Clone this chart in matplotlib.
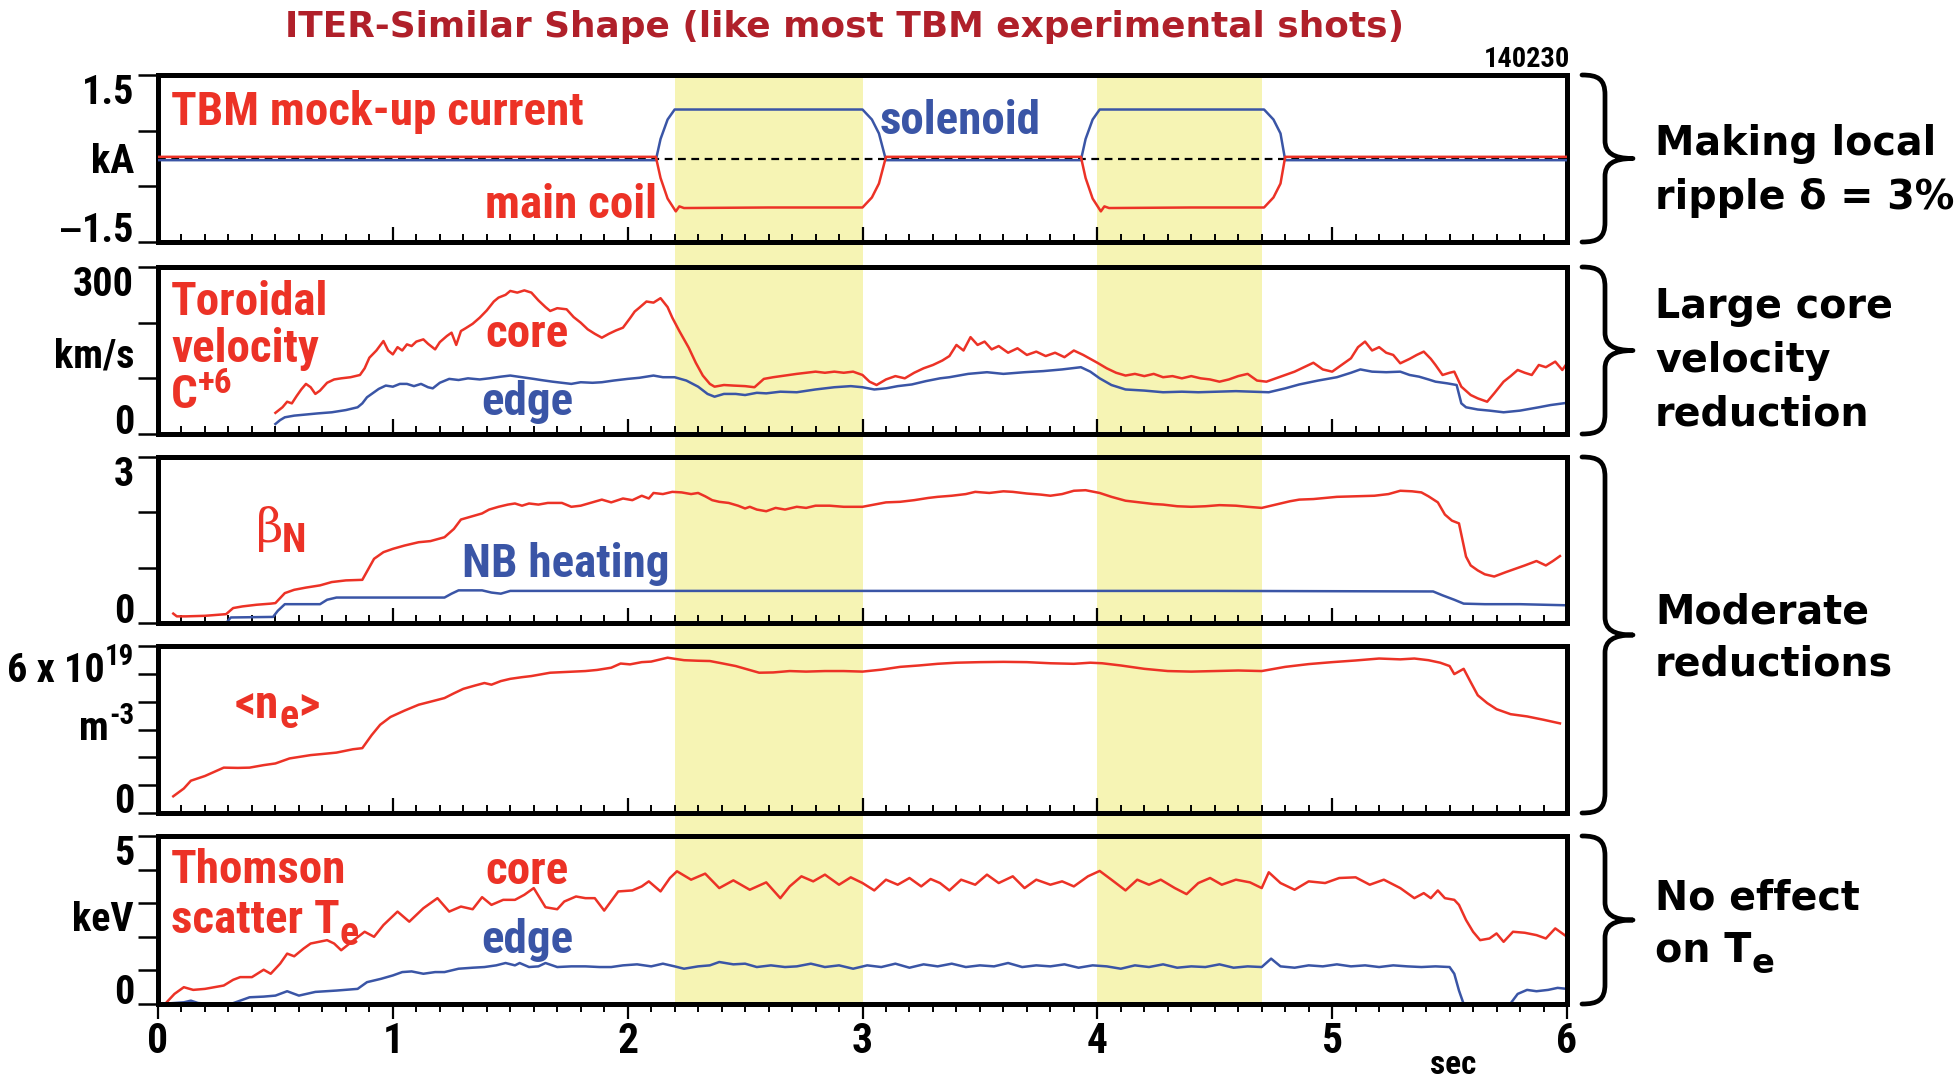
import os
import matplotlib
matplotlib.use("Agg")
import matplotlib.pyplot as plt
from matplotlib import font_manager as fm
from matplotlib.font_manager import FontProperties
from matplotlib.path import Path
from matplotlib.patches import PathPatch, Rectangle
from matplotlib.transforms import blended_transform_factory
from matplotlib.ticker import MultipleLocator

# ---------------------------------------------------------------- data
x_ticks = [0, 1, 2, 3, 4, 5, 6]
shade_spans = [(2.2, 3.0), (4.0, 4.7)]

# panel 1 : TBM mock-up current (kA)
t_sol = [0.0, 2.12, 2.14, 2.17, 2.20, 2.6, 3.00, 3.04, 3.07, 3.10,
         3.93, 3.95, 3.98, 4.01, 4.4, 4.71, 4.75, 4.78, 4.80, 6.0]
v_sol = [-0.03, -0.03, 0.35, 0.70, 0.88, 0.88, 0.88, 0.70, 0.45, -0.03,
         -0.03, 0.35, 0.70, 0.88, 0.88, 0.88, 0.70, 0.45, -0.03, -0.03]
t_main = [0.0, 2.12, 2.14, 2.17, 2.205, 2.22, 2.24, 2.6, 3.00, 3.04, 3.07, 3.10,
          3.93, 3.95, 3.98, 4.015, 4.03, 4.05, 4.4, 4.71, 4.75, 4.78, 4.80, 6.0]
v_main = [0.03, 0.03, -0.35, -0.72, -0.95, -0.86, -0.89, -0.88, -0.88, -0.70, -0.45, 0.03,
          0.03, -0.35, -0.72, -0.95, -0.86, -0.89, -0.88, -0.88, -0.70, -0.45, 0.03, 0.03]

# panel 2 : toroidal velocity C+6 (km/s)
t_vcore = [0.50, 0.53, 0.55, 0.57, 0.59, 0.61, 0.63, 0.65, 0.67, 0.69, 0.72, 0.75, 0.78, 0.82,
           0.86, 0.88, 0.90, 0.93, 0.96, 0.98, 1.00, 1.02, 1.04, 1.06, 1.08, 1.10, 1.13, 1.15,
           1.18, 1.20, 1.23, 1.25, 1.27, 1.29, 1.31, 1.34, 1.37, 1.40, 1.43, 1.45, 1.48, 1.50,
           1.53, 1.56, 1.59, 1.62, 1.65, 1.67, 1.70, 1.74, 1.77, 1.80, 1.83, 1.86, 1.89, 1.92,
           1.95, 1.98, 2.01, 2.03, 2.05, 2.08, 2.11, 2.14, 2.17, 2.19, 2.22, 2.24, 2.26, 2.29,
           2.32, 2.35, 2.37, 2.41, 2.45, 2.50, 2.54, 2.58, 2.62, 2.67, 2.72, 2.76, 2.80, 2.84,
           2.88, 2.92, 2.96, 3.00, 3.03, 3.06, 3.10, 3.14, 3.18, 3.22, 3.26, 3.30, 3.34, 3.37,
           3.40, 3.43, 3.46, 3.49, 3.52, 3.55, 3.58, 3.62, 3.66, 3.70, 3.74, 3.78, 3.82, 3.86,
           3.90, 3.94, 3.97, 4.00, 4.04, 4.08, 4.12, 4.16, 4.20, 4.24, 4.28, 4.32, 4.36, 4.40,
           4.44, 4.48, 4.52, 4.56, 4.60, 4.64, 4.68, 4.72, 4.76, 4.80, 4.84, 4.88, 4.92, 4.96,
           5.00, 5.04, 5.08, 5.11, 5.14, 5.17, 5.20, 5.23, 5.26, 5.29, 5.33, 5.36, 5.39, 5.42,
           5.44, 5.47, 5.50, 5.52, 5.55, 5.59, 5.62, 5.66, 5.69, 5.73, 5.76, 5.79, 5.82, 5.85,
           5.88, 5.91, 5.95, 5.98, 6.00]
v_vcore = [38, 48, 58, 55, 68, 80, 90, 84, 72, 78, 92, 98, 100, 102,
           106, 118, 137, 150, 167, 150, 143, 156, 150, 161, 158, 166, 170, 162,
           152, 165, 176, 182, 160, 185, 190, 198, 209, 222, 238, 245, 250, 257,
           254, 258, 254, 240, 228, 221, 226, 224, 210, 200, 188, 180, 173, 180,
           186, 191, 208, 220, 227, 238, 236, 244, 228, 209, 185, 170, 155, 128,
           105, 90, 85, 88, 87, 86, 84, 99, 102, 105, 108, 110, 112, 110,
           112, 110, 112, 106, 94, 88, 98, 104, 100, 110, 118, 124, 132, 140,
           160, 150, 174, 160, 166, 152, 158, 146, 154, 142, 148, 140, 146, 138,
           150, 142, 135, 128, 118, 110, 105, 108, 104, 108, 102, 104, 100, 104,
           100, 98, 94, 98, 104, 108, 96, 94, 100, 106, 112, 120, 128, 116,
           112, 124, 136, 156, 166, 150, 156, 146, 142, 127, 135, 142, 148, 135,
           124, 106, 110, 112, 85, 70, 64, 58, 73, 94, 104, 115, 110, 106,
           124, 120, 130, 115, 127]
t_vedge = [0.50, 0.52, 0.54, 0.58, 0.63, 0.68, 0.74, 0.80, 0.85, 0.87, 0.89, 0.92, 0.94, 0.97,
           1.00, 1.03, 1.06, 1.09, 1.12, 1.15, 1.17, 1.20, 1.24, 1.28, 1.32, 1.37, 1.41, 1.46,
           1.50, 1.55, 1.60, 1.63, 1.68, 1.72, 1.76, 1.80, 1.85, 1.89, 1.94, 2.00, 2.05, 2.11,
           2.15, 2.20, 2.25, 2.30, 2.34, 2.37, 2.41, 2.46, 2.50, 2.55, 2.59, 2.65, 2.72, 2.80,
           2.88, 2.95, 3.00, 3.05, 3.10, 3.15, 3.21, 3.27, 3.33, 3.37, 3.45, 3.53, 3.60, 3.69,
           3.77, 3.85, 3.93, 3.97, 4.01, 4.06, 4.12, 4.20, 4.28, 4.36, 4.43, 4.51, 4.59, 4.66,
           4.73, 4.80, 4.86, 4.94, 5.02, 5.08, 5.12, 5.17, 5.23, 5.29, 5.33, 5.37, 5.41, 5.44,
           5.49, 5.53, 5.55, 5.57, 5.62, 5.67, 5.73, 5.80, 5.88, 5.93, 6.00]
v_vedge = [18, 25, 30, 33, 35, 37, 39, 43, 48, 55, 66, 75, 81, 87,
           85, 90, 90, 86, 90, 84, 82, 92, 99, 97, 100, 98, 100, 103,
           105, 102, 99, 97, 94, 92, 90, 93, 92, 93, 96, 99, 101, 105,
           102, 102, 96, 85, 72, 67, 72, 72, 70, 74, 73, 76, 75, 80,
           84, 86, 84, 80, 82, 86, 89, 95, 100, 102, 108, 111, 108, 111,
           113, 116, 120, 112, 100, 88, 80, 78, 75, 76, 75, 76, 77, 76,
           75, 82, 89, 96, 102, 110, 116, 112, 111, 112, 106, 103, 98, 94,
           91, 88, 55, 48, 44, 42, 39, 42, 48, 52, 56]

# panel 3 : beta_N and NB heating
t_beta = [0.065, 0.08, 0.12, 0.20, 0.29, 0.32, 0.36, 0.42, 0.48, 0.50, 0.54, 0.58, 0.63, 0.69,
          0.74, 0.80, 0.87, 0.92, 0.96, 1.00, 1.05, 1.11, 1.16, 1.22, 1.26, 1.29, 1.34, 1.38,
          1.41, 1.45, 1.49, 1.52, 1.55, 1.58, 1.62, 1.66, 1.72, 1.76, 1.80, 1.85, 1.89, 1.93,
          1.98, 2.02, 2.06, 2.09, 2.11, 2.15, 2.19, 2.23, 2.27, 2.30, 2.33, 2.36, 2.39, 2.43,
          2.47, 2.50, 2.52, 2.55, 2.59, 2.63, 2.67, 2.72, 2.76, 2.80, 2.86, 2.92, 3.00, 3.05,
          3.10, 3.16, 3.22, 3.28, 3.32, 3.38, 3.44, 3.48, 3.54, 3.60, 3.64, 3.70, 3.76, 3.80,
          3.85, 3.90, 3.95, 4.01, 4.06, 4.12, 4.18, 4.24, 4.28, 4.34, 4.40, 4.46, 4.52, 4.59,
          4.64, 4.70, 4.76, 4.82, 4.86, 4.92, 5.02, 5.10, 5.18, 5.24, 5.29, 5.34, 5.38, 5.41,
          5.45, 5.48, 5.51, 5.54, 5.57, 5.59, 5.62, 5.65, 5.69, 5.74, 5.78, 5.82, 5.87, 5.91,
          5.94, 5.97]
v_beta = [0.17, 0.12, 0.12, 0.13, 0.16, 0.27, 0.30, 0.33, 0.35, 0.36, 0.54, 0.60, 0.64, 0.68,
          0.74, 0.77, 0.78, 1.16, 1.28, 1.34, 1.40, 1.46, 1.48, 1.55, 1.70, 1.87, 1.93, 1.98,
          2.05, 2.10, 2.14, 2.16, 2.12, 2.16, 2.14, 2.17, 2.17, 2.10, 2.12, 2.18, 2.23, 2.18,
          2.25, 2.22, 2.30, 2.25, 2.35, 2.33, 2.37, 2.36, 2.33, 2.35, 2.29, 2.22, 2.19, 2.17,
          2.12, 2.07, 2.10, 2.05, 2.02, 2.08, 2.05, 2.10, 2.08, 2.12, 2.12, 2.10, 2.10, 2.14,
          2.18, 2.19, 2.22, 2.26, 2.28, 2.30, 2.33, 2.37, 2.35, 2.38, 2.37, 2.34, 2.32, 2.30,
          2.33, 2.39, 2.40, 2.35, 2.28, 2.21, 2.18, 2.15, 2.14, 2.11, 2.10, 2.11, 2.13, 2.12,
          2.10, 2.08, 2.14, 2.20, 2.23, 2.24, 2.28, 2.29, 2.30, 2.33, 2.39, 2.38, 2.36, 2.29,
          2.18, 1.96, 1.85, 1.80, 1.20, 1.04, 0.95, 0.88, 0.84, 0.92, 0.98, 1.04, 1.12, 1.04,
          1.12, 1.21]
t_nb = [0.29, 0.31, 0.49, 0.51, 0.54, 0.69, 0.72, 0.76, 1.22, 1.25, 1.28, 1.38, 1.42, 1.46,
        1.50, 2.5, 3.5, 4.5, 5.43, 5.47, 5.52, 5.56, 5.65, 5.80, 6.00]
v_nb = [0.00, 0.10, 0.11, 0.22, 0.34, 0.34, 0.42, 0.46, 0.46, 0.53, 0.59, 0.59, 0.55, 0.53,
        0.58, 0.58, 0.58, 0.58, 0.57, 0.50, 0.42, 0.35, 0.34, 0.34, 0.32]

# panel 4 : line-averaged density (10^19 m^-3)
t_ne = [0.065, 0.11, 0.14, 0.20, 0.28, 0.34, 0.39, 0.45, 0.50, 0.56, 0.65, 0.70, 0.76, 0.83,
        0.87, 0.91, 0.946, 0.99, 1.05, 1.11, 1.17, 1.22, 1.26, 1.30, 1.35, 1.39, 1.42, 1.46,
        1.50, 1.55, 1.59, 1.63, 1.67, 1.72, 1.77, 1.82, 1.87, 1.93, 1.97, 2.01, 2.06, 2.10,
        2.14, 2.17, 2.20, 2.24, 2.30, 2.35, 2.40, 2.46, 2.51, 2.56, 2.62, 2.69, 2.76, 2.84,
        2.92, 3.00, 3.08, 3.16, 3.24, 3.32, 3.40, 3.50, 3.60, 3.70, 3.80, 3.90, 3.97, 4.02,
        4.10, 4.20, 4.30, 4.40, 4.50, 4.60, 4.70, 4.80, 4.90, 5.00, 5.10, 5.20, 5.29, 5.35,
        5.41, 5.46, 5.50, 5.52, 5.56, 5.59, 5.62, 5.66, 5.70, 5.76, 5.83, 5.90, 5.97]
v_ne = [0.60, 0.88, 1.16, 1.33, 1.63, 1.62, 1.63, 1.72, 1.78, 1.96, 2.08, 2.12, 2.17, 2.29,
        2.33, 2.80, 3.17, 3.45, 3.68, 3.89, 4.02, 4.13, 4.30, 4.46, 4.58, 4.67, 4.61, 4.74,
        4.82, 4.88, 4.92, 4.98, 5.04, 5.06, 5.08, 5.10, 5.14, 5.22, 5.37, 5.34, 5.42, 5.44,
        5.52, 5.58, 5.54, 5.49, 5.47, 5.46, 5.38, 5.28, 5.16, 5.04, 5.05, 5.10, 5.08, 5.10,
        5.10, 5.08, 5.15, 5.25, 5.30, 5.36, 5.40, 5.42, 5.43, 5.42, 5.38, 5.36, 5.40, 5.38,
        5.30, 5.18, 5.10, 5.08, 5.10, 5.12, 5.10, 5.25, 5.35, 5.42, 5.48, 5.55, 5.52, 5.55,
        5.49, 5.40, 5.28, 4.99, 5.18, 4.70, 4.23, 3.95, 3.73, 3.55, 3.47, 3.35, 3.22]

# panel 5 : Thomson scattering Te (keV)
t_tcore = [0.00, 0.03, 0.07, 0.11, 0.15, 0.20, 0.28, 0.32, 0.35, 0.40, 0.45, 0.48, 0.52, 0.55,
           0.58, 0.62, 0.65, 0.72, 0.75, 0.78, 0.83, 0.88, 0.92, 0.96, 1.02, 1.07, 1.10, 1.13,
           1.19, 1.24, 1.29, 1.34, 1.38, 1.42, 1.47, 1.52, 1.56, 1.60, 1.65, 1.70, 1.73, 1.78,
           1.82, 1.86, 1.90, 1.96, 2.02, 2.06, 2.09, 2.14, 2.18, 2.21, 2.27, 2.33, 2.39, 2.45,
           2.52, 2.59, 2.65, 2.69, 2.74, 2.79, 2.84, 2.90, 2.95, 3.00, 3.05, 3.10, 3.15, 3.20,
           3.25, 3.29, 3.33, 3.37, 3.42, 3.48, 3.53, 3.58, 3.64, 3.69, 3.74, 3.80, 3.85, 3.90,
           3.96, 4.01, 4.06, 4.12, 4.17, 4.22, 4.27, 4.33, 4.38, 4.43, 4.48, 4.53, 4.59, 4.65,
           4.70, 4.73, 4.78, 4.84, 4.90, 4.97, 5.03, 5.10, 5.16, 5.22, 5.29, 5.35, 5.39, 5.42,
           5.45, 5.48, 5.52, 5.54, 5.57, 5.60, 5.63, 5.67, 5.70, 5.73, 5.77, 5.82, 5.87, 5.91,
           5.95, 6.00]
v_tcore = [0.00, 0.00, 0.30, 0.50, 0.42, 0.45, 0.55, 0.72, 0.80, 0.80, 1.02, 0.90, 1.20, 1.50,
           1.42, 1.65, 1.80, 1.90, 1.80, 1.60, 1.88, 2.15, 2.00, 2.35, 2.75, 2.45, 2.65, 2.85,
           3.15, 2.75, 2.90, 2.82, 3.18, 2.95, 3.10, 3.10, 3.25, 3.45, 2.88, 2.82, 3.05, 3.20,
           3.15, 3.15, 2.78, 3.35, 3.38, 3.50, 3.65, 3.35, 3.75, 3.95, 3.70, 3.88, 3.45, 3.68,
           3.40, 3.62, 3.15, 3.50, 3.80, 3.65, 3.85, 3.55, 3.77, 3.60, 3.38, 3.70, 3.55, 3.75,
           3.50, 3.72, 3.60, 3.38, 3.70, 3.55, 3.85, 3.60, 3.80, 3.45, 3.70, 3.55, 3.65, 3.50,
           3.80, 3.96, 3.70, 3.38, 3.70, 3.55, 3.70, 3.45, 3.27, 3.60, 3.75, 3.55, 3.70, 3.62,
           3.45, 3.92, 3.60, 3.40, 3.65, 3.60, 3.75, 3.77, 3.55, 3.70, 3.45, 3.15, 3.30, 3.15,
           3.38, 3.15, 3.10, 2.95, 2.50, 2.15, 1.90, 1.95, 2.10, 1.85, 2.15, 2.12, 2.05, 1.95,
           2.25, 2.00]
t_tedge = [0.00, 0.05, 0.11, 0.14, 0.17, 0.22, 0.31, 0.35, 0.39, 0.45, 0.50, 0.55, 0.60, 0.67,
           0.76, 0.85, 0.89, 0.95, 1.00, 1.04, 1.08, 1.13, 1.18, 1.22, 1.28, 1.34, 1.39, 1.44,
           1.48, 1.52, 1.54, 1.58, 1.62, 1.65, 1.70, 1.76, 1.82, 1.88, 1.93, 1.98, 2.04, 2.10,
           2.15, 2.20, 2.24, 2.30, 2.35, 2.39, 2.45, 2.50, 2.55, 2.61, 2.67, 2.72, 2.78, 2.84,
           2.90, 2.96, 3.02, 3.08, 3.14, 3.20, 3.26, 3.32, 3.38, 3.44, 3.50, 3.56, 3.62, 3.68,
           3.74, 3.80, 3.86, 3.92, 3.98, 4.04, 4.10, 4.16, 4.22, 4.28, 4.34, 4.40, 4.46, 4.52,
           4.58, 4.64, 4.70, 4.74, 4.78, 4.84, 4.90, 4.96, 5.02, 5.08, 5.14, 5.20, 5.26, 5.32,
           5.38, 5.44, 5.50, 5.52, 5.54, 5.56, 5.60, 5.72, 5.76, 5.79, 5.83, 5.87, 5.92, 5.96,
           6.00]
v_tedge = [0.00, 0.02, 0.05, 0.10, 0.03, 0.00, 0.00, 0.10, 0.20, 0.22, 0.25, 0.38, 0.25, 0.36,
           0.40, 0.45, 0.65, 0.75, 0.85, 0.95, 0.97, 0.90, 0.95, 0.95, 1.05, 1.08, 1.10, 1.15,
           1.22, 1.15, 1.22, 1.10, 1.12, 1.22, 1.10, 1.12, 1.12, 1.10, 1.10, 1.15, 1.18, 1.12,
           1.20, 1.12, 1.05, 1.12, 1.15, 1.25, 1.18, 1.20, 1.10, 1.15, 1.10, 1.12, 1.20, 1.10,
           1.15, 1.05, 1.15, 1.10, 1.20, 1.08, 1.18, 1.12, 1.20, 1.10, 1.15, 1.12, 1.22, 1.10,
           1.15, 1.12, 1.18, 1.08, 1.15, 1.12, 1.05, 1.15, 1.10, 1.18, 1.08, 1.12, 1.10, 1.18,
           1.08, 1.12, 1.10, 1.35, 1.12, 1.08, 1.15, 1.12, 1.18, 1.12, 1.15, 1.10, 1.15, 1.12,
           1.10, 1.12, 1.10, 0.90, 0.40, 0.00, 0.00, 0.00, 0.02, 0.30, 0.42, 0.38, 0.42, 0.48,
           0.45]

# ---------------------------------------------------------------- fonts
RED = "#ec3226"
BLUE = "#3a55a6"
DARKRED = "#b0202a"
YELLOW = "#f6f4b4"


def _is_bold(w):
    if isinstance(w, (int, float)):
        return 600 <= w <= 800
    return str(w).lower() in ("bold", "semibold", "demibold", "demi", "extra bold")


COND_STRETCH = ("condensed", "semi-condensed", "extra-condensed", "ultra-condensed")
_cands = []
for f in fm.fontManager.ttflist:
    base = os.path.basename(f.fname).lower()
    condlike = (f.stretch in COND_STRETCH or "narrow" in f.name.lower()
                or "condensed" in f.name.lower() or "cond" in base or "narrow" in base)
    if condlike and _is_bold(f.weight) and f.style == "normal" and "italic" not in base \
            and "oblique" not in base and "serif" not in f.name.lower().replace("sans", ""):
        _cands.append(f)

_pref = ["liberation sans narrow", "arial narrow", "roboto condensed", "noto sans",
         "open sans", "dejavu sans", "roboto", "lato", "inter"]


def _rank(f):
    n = f.name.lower()
    base = os.path.basename(f.fname).lower()
    pi = next((i for i, p in enumerate(_pref) if n.startswith(p)), len(_pref))
    si = 0 if (f.stretch == "condensed" or ("condensed" in base and "semi" not in base
                                            and "extra" not in base)) else 1
    wi = 0 if (f.weight in (700, "bold") or "bold" in base and "semi" not in base
               and "extra" not in base) else 1
    return (pi, si, wi)


_cands.sort(key=_rank)
if _cands:
    NARROW_PATH = _cands[0].fname
else:
    NARROW_PATH = fm.findfont(FontProperties(family="Liberation Sans", weight="bold"))
WIDE_PATH = fm.findfont(FontProperties(family="DejaVu Sans", weight="bold"))
SERIF_PATH = fm.findfont(FontProperties(family="DejaVu Serif", weight="normal"))

W, H = 1959, 1078
fig = plt.figure(figsize=(W / 100, H / 100), dpi=100)
fig.patch.set_facecolor("white")
renderer = fig.canvas.get_renderer()


def fp(size, path=None):
    return FontProperties(fname=path or NARROW_PATH, size=size)


def put(xpx, ypx, s, size, color="black", ha="left", va="baseline", path=None, **kw):
    return fig.text(xpx / W, 1 - ypx / H, s, fontproperties=fp(size, path), color=color,
                    ha=ha, va=va, **kw)


def wpx(t):
    return t.get_window_extent(renderer=renderer).width


# calibrate the condensed font against the reference width of one label
_probe = put(0, 0, "TBM mock-up current", 34)
K = 412.0 / wpx(_probe)
_probe.remove()


def rich(xpx, ypx, parts, size, color="black", ha="left", path=None):
    """parts: (text, rise in em, scale)."""
    texts = []
    x = xpx
    em = size * 100 / 72
    for s, dy, sc in parts:
        t = put(x, ypx - dy * em, s, size * sc, color=color, path=path)
        texts.append(t)
        x += wpx(t)
    if ha == "right":
        total = x - xpx
        for t in texts:
            px, py = t.get_position()
            t.set_position((px - total / W, py))
    return texts


# ---------------------------------------------------------------- axes
left_px, right_px = 158, 1567
rows_px = [(75, 242), (267, 434), (457, 623), (646, 813), (836, 1004)]
axes = []
for top, bot in rows_px:
    ax = fig.add_axes([left_px / W, 1 - bot / H, (right_px - left_px) / W, (bot - top) / H])
    ax.patch.set_visible(False)
    for sp in ax.spines.values():
        sp.set_linewidth(3.6)
        sp.set_color("black")
    ax.set_xlim(x_ticks[0], x_ticks[-1])
    ax.set_xticks(x_ticks)
    ax.xaxis.set_minor_locator(MultipleLocator(0.1))
    axes.append(ax)

ylims = [(-1.5, 1.5), (0, 300), (0, 3), (0, 6), (0, 5)]
yticks = [[-1.5, -0.5, 0.5, 1.5], [0, 100, 200, 300], [0, 1, 2, 3],
          [0, 1, 2, 3, 4, 5, 6], [0, 1, 2, 3, 4, 5]]
XT = 30 * K
for i, ax in enumerate(axes):
    ax.set_ylim(*ylims[i])
    ax.set_yticks(yticks[i])
    ax.set_yticklabels([])
    ax.tick_params(axis="y", direction="out", length=14.5, width=1.8, left=True, right=False)
    last = i == len(axes) - 1
    ax.tick_params(axis="x", which="major", direction="out" if last else "in",
                   length=11, width=1.6, top=False, labelbottom=last, pad=1)
    ax.tick_params(axis="x", which="minor", direction="out" if last else "in",
                   length=6, width=1.4, top=False)
    if last:
        ax.set_xticklabels([str(v) for v in x_ticks])
        for lb in ax.get_xticklabels():
            lb.set_fontproperties(fp(XT))

# yellow shaded windows spanning all panels
trans = blended_transform_factory(axes[0].transData, fig.transFigure)
y_lo = axes[-1].get_position().y0
y_hi = axes[0].get_position().y1
for a, b in shade_spans:
    fig.add_artist(Rectangle((a, y_lo), b - a, y_hi - y_lo, transform=trans,
                             facecolor=YELLOW, edgecolor="none", zorder=-5))

LW = 1.8
ax1, ax2, ax3, ax4, ax5 = axes
ax1.axhline(0, color="black", lw=1.6, ls=(0, (3.5, 2.5)), zorder=1)
ax1.plot(t_sol, v_sol, color=BLUE, lw=LW, zorder=3)
ax1.plot(t_main, v_main, color=RED, lw=LW, zorder=3)
ax2.plot(t_vedge, v_vedge, color=BLUE, lw=LW)
ax2.plot(t_vcore, v_vcore, color=RED, lw=LW)
ax3.plot(t_nb, v_nb, color=BLUE, lw=LW)
ax3.plot(t_beta, v_beta, color=RED, lw=LW)
ax4.plot(t_ne, v_ne, color=RED, lw=LW)
ax5.plot(t_tedge, v_tedge, color=BLUE, lw=LW)
ax5.plot(t_tcore, v_tcore, color=RED, lw=LW)

# ---------------------------------------------------------------- y-axis labels
YS = 29 * K
CAP = 0.71 * YS * 100 / 72
LABX = left_px - 24


def ypix(ax, val):
    return H - ax.transData.transform((0, val))[1]


def ylab(ax, val, parts, where):
    y = ypix(ax, val)
    if where == "top":
        base = y + CAP
    elif where == "bottom":
        base = y
    else:
        base = y + CAP / 2
    rich(LABX, base, parts, YS, ha="right")


ylab(ax1, 1.5, [("1.5", 0, 1)], "top")
ylab(ax1, 0, [("kA", 0, 1)], "center")
ylab(ax1, -1.5, [("\u2014", 0, 0.85), ("1.5", 0, 1)], "bottom")
ylab(ax2, 300, [("300", 0, 1)], "top")
ylab(ax2, 145, [("km/s", 0, 1)], "center")
ylab(ax2, 0, [("0", 0, 1)], "bottom")
ylab(ax3, 3, [("3", 0, 1)], "top")
ylab(ax3, 0, [("0", 0, 1)], "bottom")
rich(LABX, ypix(ax4, 6) + 36, [("6 x 10", 0, 1), ("19", 0.42, 0.72)], YS, ha="right")
rich(LABX, ypix(ax4, 3) + 11, [("m", 0, 1), ("-3", 0.42, 0.72)], YS, ha="right")
ylab(ax4, 0, [("0", 0, 1)], "bottom")
ylab(ax5, 5, [("5", 0, 1)], "top")
ylab(ax5, 2.6, [("keV", 0, 1)], "center")
ylab(ax5, 0, [("0", 0, 1)], "bottom")

# ---------------------------------------------------------------- panel labels
LAB = 34 * K
put(171, 125, "TBM mock-up current", LAB, RED)
put(485, 218, "main coil", LAB, RED)
put(880, 134, "solenoid", LAB, BLUE)
put(171, 315, "Toroidal", LAB, RED)
put(171, 362, "velocity", LAB, RED)
rich(171, 408, [("C", 0, 1), ("+6", 0.32, 0.75)], LAB, RED)
put(485, 347, "core", LAB, RED)
put(481, 415, "edge", LAB, BLUE)
put(256, 542, "\u03b2", 34, RED, path=SERIF_PATH)
put(282, 552, "N", LAB * 0.85, RED)
put(462, 577, "NB heating", LAB, BLUE)
rich(235, 718, [("<n", 0, 1), ("e", -0.22, 0.85), (">", 0, 1)], LAB, RED)
put(171, 883, "Thomson", LAB, RED)
rich(171, 933, [("scatter T", 0, 1), ("e", -0.25, 0.85)], LAB, RED)
put(485, 884, "core", LAB, RED)
put(481, 953, "edge", LAB, BLUE)

# ---------------------------------------------------------------- title etc.
title = put(845, 27, "ITER-Similar Shape (like most TBM experimental shots)", 24, DARKRED,
            ha="center", va="center", path=WIDE_PATH)
title.set_fontsize(24 * 1120.0 / wpx(title))
put(1570, 67, "140230", 20.5 * K, "black", ha="right")
put(1453, 1074, "sec", 24 * K, "black", ha="center")

RS = 28.5
for y, s in [(155, "Making local"), (209, "ripple \u03b4 = 3%"),
             (318, "Large core"), (372, "velocity"), (425, "reduction"),
             (623, "Moderate"), (676, "reductions"),
             (909, "No effect")]:
    put(1655, y, s, RS, "black", path=WIDE_PATH)
rich(1655, 962, [("on T", 0, 1), ("e", -0.28, 0.85)], RS, "black", path=WIDE_PATH)


# ---------------------------------------------------------------- curly braces
def brace(y_top, y_bot, xe=1582, xs=1605, xt=1633):
    def P(x, y):
        return (x / W, 1 - y / H)
    ym = 0.5 * (y_top + y_bot)
    r = 20
    verts = [P(xe, y_top),
             P(xe + 16, y_top), P(xs, y_top + 4), P(xs, y_top + r),
             P(xs, ym - 18),
             P(xs, ym - 6), P(xs + 8, ym), P(xt, ym),
             P(xs + 8, ym), P(xs, ym + 6), P(xs, ym + 18),
             P(xs, y_bot - r),
             P(xs, y_bot - 4), P(xe + 16, y_bot), P(xe, y_bot)]
    codes = [Path.MOVETO, Path.CURVE4, Path.CURVE4, Path.CURVE4, Path.LINETO,
             Path.CURVE4, Path.CURVE4, Path.CURVE4, Path.CURVE4, Path.CURVE4, Path.CURVE4,
             Path.LINETO, Path.CURVE4, Path.CURVE4, Path.CURVE4]
    fig.add_artist(PathPatch(Path(verts, codes), transform=fig.transFigure,
                             facecolor="none", edgecolor="black", lw=3.4,
                             capstyle="round", joinstyle="round"))


def px_top(ax):
    return (1 - ax.get_position().y1) * H


def px_bot(ax):
    return (1 - ax.get_position().y0) * H


brace(px_top(ax1), px_bot(ax1))
brace(px_top(ax2), px_bot(ax2))
brace(px_top(ax3), px_bot(ax4))
brace(px_top(ax5), px_bot(ax5))

fig.savefig("out.png", dpi=100, facecolor="white")
